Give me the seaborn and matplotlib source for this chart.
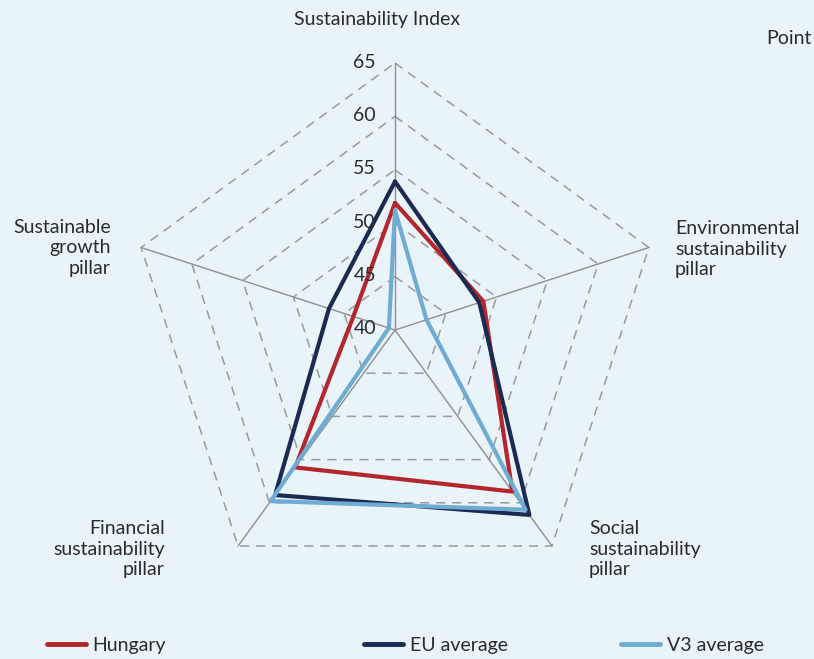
import numpy as np
import pandas as pd
import matplotlib
matplotlib.use("Agg")
import matplotlib.pyplot as plt
import matplotlib.transforms as mtransforms
from matplotlib.lines import Line2D
import seaborn as sns

# ---- data ----
categories = ["Sustainability Index",
              "Environmental\nsustainability\npillar",
              "Social\nsustainability\npillar",
              "Financial\nsustainability\npillar",
              "Sustainable\ngrowth\npillar"]
series_names = ["Hungary", "EU average", "V3 average"]
hungary = [51.9, 48.7, 58.7, 55.9, 44.1]
eu_average = [53.9, 48.3, 61.4, 59.1, 46.5]
v3_average = [51.2, 43.1, 60.8, 59.8, 40.6]
levels = [40, 45, 50, 55, 60, 65]
unit_label = "Point"

colors = {"Hungary": "#B3262C", "EU average": "#1B2A52", "V3 average": "#6FABD3"}
bg = "#E9F3FA"
txt = "#2B2B2B"
FS = 14

sns.set_style("white")
plt.rcParams["font.family"] = ["Lato", "DejaVu Sans"]

W, H = 814, 659
fig = plt.figure(figsize=(W / 100, H / 100), dpi=100)
fig.patch.set_facecolor(bg)

cx, cy, R = 395, 330, 267
ax = fig.add_axes([(cx - R) / W, (H - cy - R) / H, 2 * R / W, 2 * R / H], projection="polar")
ax.set_facecolor("none")
ax.set_theta_offset(np.pi / 2)
ax.set_theta_direction(-1)

n = len(categories)
theta = [2 * np.pi * i / n for i in range(n)]
theta_closed = theta + [2 * np.pi]

# grid pentagons and spokes
for lvl in levels[1:]:
    ax.plot(theta_closed, [lvl] * (n + 1), color="#9A9A9A", lw=1.1,
            ls=(0, (6, 4.5)), clip_on=False, zorder=1)
for t in theta:
    ax.plot([t, t], [levels[0], levels[-1]], color="#8F8F8F", lw=1.0, clip_on=False, zorder=1)

# data
rows = []
for name, vals in zip(series_names, [hungary, eu_average, v3_average]):
    vc = list(vals) + [vals[0]]
    for i, (t, v) in enumerate(zip(theta_closed, vc)):
        rows.append({"series": name, "theta": t, "value": v, "order": i})
df = pd.DataFrame(rows)

for name in series_names:
    sub = df[df["series"] == name]
    sns.lineplot(data=sub, x="theta", y="value", sort=False, estimator=None,
                 color=colors[name], lw=3.0, ax=ax, legend=False, zorder=3)

ax.set_ylim(levels[0], levels[-1])
ax.set_xlabel("")
ax.set_ylabel("")
ax.set_xticks([])
ax.set_yticks([])
ax.grid(False)
ax.spines["polar"].set_visible(False)

# radial tick labels
off = mtransforms.offset_copy(ax.transData, fig=fig, x=-19, y=1, units="dots")
for lvl in levels:
    ax.text(0, lvl, str(lvl), transform=off, ha="right", va="center",
            fontsize=FS, color=txt)

def ftext(x, y, s, **kw):
    fig.text(x / W, 1 - y / H, s, fontsize=FS, color=txt, linespacing=1.25, **kw)

ftext(377, 20, categories[0], ha="center", va="center")
ftext(675, 249, categories[1], ha="left", va="center", multialignment="left")
ftext(589, 549, categories[2], ha="left", va="center", multialignment="left")
ftext(165, 549, categories[3], ha="right", va="center", multialignment="right")
ftext(111, 248, categories[4], ha="right", va="center", multialignment="right")
ftext(812, 38, unit_label, ha="right", va="center")

# legend
leg_x = [47, 364, 621]
for name, x in zip(series_names, leg_x):
    h = Line2D([], [], color=colors[name], lw=3.5, solid_capstyle="round")
    fig.legend([h], [name], loc="center left", bbox_to_anchor=(x / W, 1 - 645 / H),
               frameon=False, fontsize=FS, handlelength=2.0, handletextpad=0.35,
               borderpad=0, borderaxespad=0, labelcolor=txt)

fig.savefig("out.png", dpi=100, facecolor=bg)
